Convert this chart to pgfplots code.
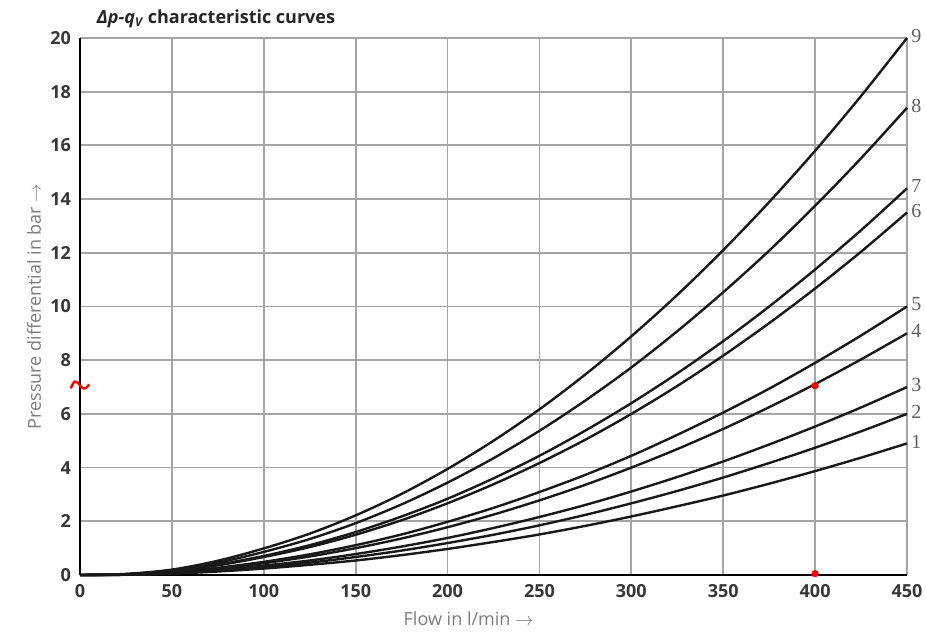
\documentclass[border=0pt]{standalone}
\usepackage{fontspec}
\setmainfont{Open Sans}
\newfontfamily\numfont{Liberation Serif}
\usepackage{pgfplots}
\pgfplotsset{compat=1.18}

\definecolor{gridgray}{RGB}{165,165,165}
\definecolor{ticktext}{RGB}{55,55,55}
\definecolor{labeltext}{RGB}{125,125,125}
\definecolor{numgray}{RGB}{95,95,95}

\tikzset{curvelabel/.style={anchor=west, font=\numfont\normalsize, text=numgray, inner sep=2pt, yshift=1pt}}

\pgfplotstableread{
x     c1    c2    c3    c4    c5    c6    c7    c8    c9
0     0     0     0     0     0     0     0     0     0
25    0.01  0.01  0.01  0.02  0.02  0.02  0.03  0.03  0.04
50    0.05  0.06  0.07  0.09  0.10  0.14  0.15  0.18  0.20
75    0.13  0.16  0.18  0.24  0.27  0.36  0.39  0.46  0.53
100   0.24  0.30  0.35  0.44  0.49  0.67  0.71  0.86  0.99
125   0.38  0.46  0.54  0.69  0.77  1.04  1.11  1.34  1.54
150   0.54  0.67  0.78  1.00  1.11  1.50  1.60  1.93  2.22
175   0.74  0.91  1.06  1.36  1.51  2.04  2.18  2.63  3.02
200   0.97  1.19  1.38  1.78  1.98  2.67  2.84  3.44  3.95
225   1.23  1.50  1.75  2.25  2.50  3.38  3.60  4.35  5.00
250   1.51  1.85  2.16  2.78  3.09  4.17  4.44  5.37  6.17
275   1.83  2.24  2.61  3.36  3.73  5.04  5.38  6.50  7.47
300   2.18  2.67  3.11  4.00  4.44  6.00  6.40  7.73  8.89
325   2.56  3.13  3.65  4.69  5.22  7.04  7.51  9.08  10.43
350   2.96  3.63  4.23  5.44  6.05  8.17  8.71  10.53 12.10
375   3.40  4.17  4.86  6.25  6.94  9.38  10.00 12.08 13.89
400   3.87  4.74  5.53  7.11  7.90  10.67 11.38 13.75 15.80
425   4.37  5.35  6.24  8.03  8.92  12.04 12.84 15.52 17.84
450   4.90  6.00  7.00  9.00  10.00 13.50 14.40 17.40 20.00
}\curves

\begin{document}
\begin{tikzpicture}
\begin{axis}[
    width=413.5pt, height=268.5pt,
    scale only axis,
    xmin=0, xmax=450, ymin=0, ymax=20,
    xtick={0,50,...,450},
    ytick={0,2,...,20},
    grid=major,
    major grid style={gridgray, line width=0.9pt},
    axis x line=bottom, axis y line=left,
    axis line style={black, line width=1.3pt, -},
    major tick length=0pt,
    tick label style={font=\small\bfseries, text=ticktext},
    /pgf/number format/assume math mode=true,
    xticklabel style={yshift=-1pt},
    yticklabel style={xshift=-1pt},
    xlabel={Flow in l/min $\rightarrow$},
    ylabel={Pressure differential in bar $\rightarrow$},
    label style={font=\small, text=labeltext},
    xlabel style={at={(rel axis cs:0.47,0)}, anchor=north, yshift=-15pt},
    ylabel style={at={(rel axis cs:0,0.5)}, anchor=south, yshift=16pt},
    clip=false,
    curve/.style={black!90, line width=1.2pt, smooth, no markers, solid},
]
\addplot[curve] table[x=x, y=c1] {\curves};
\addplot[curve] table[x=x, y=c2] {\curves};
\addplot[curve] table[x=x, y=c3] {\curves};
\addplot[curve] table[x=x, y=c4] {\curves};
\addplot[curve] table[x=x, y=c5] {\curves};
\addplot[curve] table[x=x, y=c6] {\curves};
\addplot[curve] table[x=x, y=c7] {\curves};
\addplot[curve] table[x=x, y=c8] {\curves};
\addplot[curve] table[x=x, y=c9] {\curves};

% red pen marks
\addplot[red, only marks, mark=*, mark size=1.6pt] coordinates {(400,7.05) (400,0.05)};
\addplot[red, line width=1.2pt, smooth, no markers] coordinates {(-5,6.95) (-3,7.2) (-1,7.15) (1,6.98) (3,6.95) (5,7.1)};

\node[curvelabel] at (axis cs:450,4.9) {1};
\node[curvelabel] at (axis cs:450,6.0) {2};
\node[curvelabel] at (axis cs:450,7.0) {3};
\node[curvelabel] at (axis cs:450,9.0) {4};
\node[curvelabel] at (axis cs:450,10.0) {5};
\node[curvelabel] at (axis cs:450,13.5) {6};
\node[curvelabel] at (axis cs:450,14.4) {7};
\node[curvelabel] at (axis cs:450,17.4) {8};
\node[curvelabel] at (axis cs:450,20.0) {9};

\node[anchor=south west, font=\small\bfseries, text=black!85] at (rel axis cs:0.012,1.005)
  {\textit{Δp-q\textsubscript{V}} characteristic curves};

\coordinate (ll) at (rel axis cs:0,0);
\coordinate (ur) at (rel axis cs:1,1);
\end{axis}
\pgfresetboundingbox
\path ([shift={(-40pt,-30.5pt)}]ll) rectangle ([shift={(9.5pt,19pt)}]ur);
\end{tikzpicture}
\end{document}
